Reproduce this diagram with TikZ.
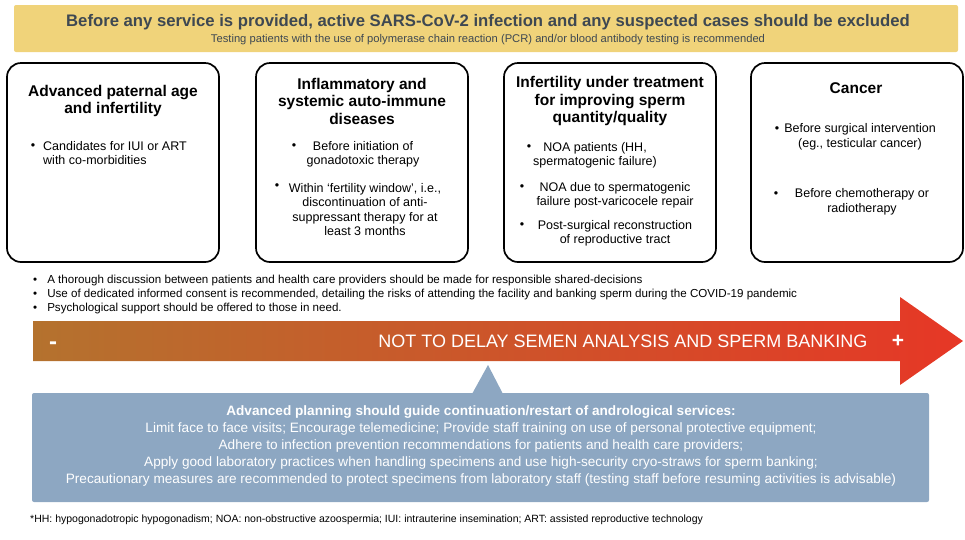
\documentclass[tikz,border=0pt]{standalone}
\usepackage{fontspec}
\setmainfont{Liberation Sans}
\usepackage{tikz}
\usetikzlibrary{positioning,shapes,arrows.meta}

\definecolor{bannerYellow}{RGB}{240,211,122}
\definecolor{titleGray}{RGB}{62,72,82}
\definecolor{planBlue}{RGB}{141,167,194}
\definecolor{arrowBrown}{RGB}{180,114,46}
\definecolor{arrowRed}{RGB}{230,55,38}

\newcommand{\fs}[2]{\fontsize{#1}{#2}\selectfont}

\tikzset{
  banner/.style={fill=bannerYellow,rounded corners=2pt},
  casebox/.style={draw,line width=1.7pt,rounded corners=14pt,minimum width=212pt,minimum height=199pt},
  boxtitle/.style={font=\bfseries\fs{15.5}{17.5},align=center,inner sep=0pt},
  boxitem/.style={font=\fs{12.5}{14.5},align=center,inner sep=0pt},
  dot/.style={font=\fs{12.5}{14.5},inner sep=0pt},
  note/.style={font=\fs{11.6}{14},anchor=west,inner sep=0pt},
  plantext/.style={font=\color{white}\fs{13.6}{17.2},align=center,inner sep=0pt}
}

\begin{document}
\begin{tikzpicture}[x=1pt,y=-1pt]
  \useasboundingbox (0,0) rectangle (965,539);

  % banner on top
  \fill[banner] (14,5) rectangle (958,52);
  \node[font=\bfseries\fs{16.7}{18},text=titleGray] (exclude) at (488,22)
    {Before any service is provided, active SARS-CoV-2 infection and any suspected cases should be excluded};
  \node[font=\fs{11.2}{13},text=titleGray] (testing) at (488,40)
    {Testing patients with the use of polymerase chain reaction (PCR) and/or blood antibody testing is recommended};

  % the four groups of patients
  \begin{scope}[every node/.append style={casebox}]
    \node (age) at (113,162.5) {};
    \node (immune) at (362,162.5) {};
    \node (treat) at (610,162.5) {};
    \node (cancer) at (857,162.5) {};
  \end{scope}

  \node[boxtitle] (ageT) at (113,101) {Advanced paternal age\\and infertility};
  \node[dot] (ageD1) at (33,147) {\textbullet};
  \node[boxitem,align=left,anchor=north west] (ageI1) at (43,141) {Candidates for IUI or ART\\with co-morbidities};

  \node[boxtitle] (immuneT) at (362,101) {Inflammatory and\\systemic auto-immune\\diseases};
  \node[dot] (immuneD1) at (294,147) {\textbullet};
  \node[boxitem] (immuneI1) at (363,154.5) {Before initiation of\\gonadotoxic therapy};
  \node[dot] (immuneD2) at (277,187) {\textbullet};
  \node[boxitem] (immuneI2) at (365,209.5) {Within ‘fertility window’, i.e.,\\discontinuation of anti-\\suppressant therapy for at\\least 3 months};

  \node[boxtitle] (treatT) at (610,101) {Infertility under treatment\\for improving sperm\\quantity/quality};
  \node[dot] (treatD1) at (529,148) {\textbullet};
  \node[boxitem] (treatI1) at (595,155.5) {NOA patients (HH,\\spermatogenic failure)};
  \node[dot] (treatD2) at (522,188) {\textbullet};
  \node[boxitem] (treatI2) at (615,195.5) {NOA due to spermatogenic\\failure post-varicocele repair};
  \node[dot] (treatD3) at (522,226) {\textbullet};
  \node[boxitem] (treatI3) at (615,233.5) {Post-surgical reconstruction\\of reproductive tract};

  \node[boxtitle] (cancerT) at (856,88) {Cancer};
  \node[dot] (cancerD1) at (777,130) {\textbullet};
  \node[boxitem] (cancerI1) at (860,137) {Before surgical intervention\\(eg., testicular cancer)};
  \node[dot] (cancerD2) at (776,195) {\textbullet};
  \node[boxitem] (cancerI2) at (862,202) {Before chemotherapy or\\radiotherapy};

  % general recommendations
  \node[note] (talk) at (33,280) {\textbullet\hspace{10pt}A thorough discussion between patients and health care providers should be made for responsible shared-decisions};
  \node[note] (consent) at (33,294) {\textbullet\hspace{10pt}Use of dedicated informed consent is recommended, detailing the risks of attending the facility and banking sperm during the COVID-19 pandemic};
  \node[note] (support) at (33,308) {\textbullet\hspace{10pt}Psychological support should be offered to those in need.};

  % priority arrow
  \shade[left color=arrowBrown,right color=arrowRed]
    (33,321) -- (900,321) -- (900,297) -- (963,341) -- (900,385) -- (900,361) -- (33,361) -- cycle;
  \node[font=\bfseries\fs{24}{24},text=white] (minus) at (53,346) {-};
  \node[font=\fs{18}{20},text=white,anchor=east] (delay) at (871,341) {NOT TO DELAY SEMEN ANALYSIS AND SPERM BANKING};
  \node[font=\bfseries\fs{21}{21},text=white] (plus) at (898,341) {+};

  % planning box with its pointer
  \fill[planBlue] (488,365) -- (503,394) -- (472,394) -- cycle;
  \fill[planBlue,rounded corners=2pt] (32,393) rectangle (929,502);
  \node[plantext] (plan) at (481,446)
    {\textbf{Advanced planning should guide continuation/restart of andrological services:}\\
     Limit face to face visits; Encourage telemedicine; Provide staff training on use of personal protective equipment;\\
     Adhere to infection prevention recommendations for patients and health care providers;\\
     Apply good laboratory practices when handling specimens and use high-security cryo-straws for sperm banking;\\
     Precautionary measures are recommended to protect specimens from laboratory staff (testing staff before resuming activities is advisable)};

  \node[font=\fs{10.5}{12},anchor=west,inner sep=0pt] (abbr) at (30,520)
    {*HH: hypogonadotropic hypogonadism; NOA: non-obstructive azoospermia; IUI: intrauterine insemination; ART: assisted reproductive technology};
\end{tikzpicture}
\end{document}
